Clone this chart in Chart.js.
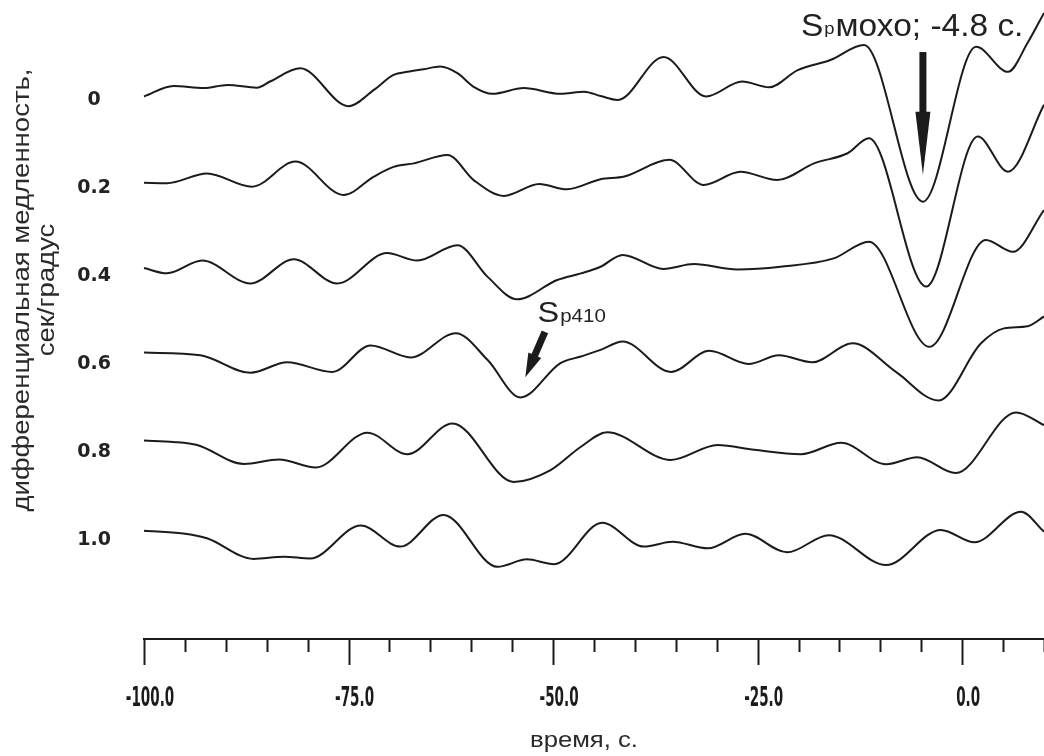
<!DOCTYPE html>
<html>
<head>
<meta charset="utf-8">
<script src="https://cdn.jsdelivr.net/npm/chart.js@4.4.1/dist/chart.umd.min.js"></script>
<style>
  html, body { margin: 0; padding: 0; background: #fff; }
  #wrap { width: 1044px; height: 756px; position: relative; }
</style>
</head>
<body>
<div id="wrap"><canvas id="stackChart"></canvas></div>
<script>
/* ============================================================
   Receiver-function stack vs differential slowness
   one trace per slowness value, time axis in seconds
   ============================================================ */

/* y axis — differential slowness, сек/градус */
const SLOWNESS        = [0, 0.2, 0.4, 0.6, 0.8, 1.0];
const SLOWNESS_LABELS = ['0', '0.2', '0.4', '0.6', '0.8', '1.0'];

/* x axis — time, s */
const TIME_MAJOR        = [-100, -75, -50, -25, 0];
const TIME_MAJOR_LABELS = ['-100.0', '-75.0', '-50.0', '-25.0', '0.0'];

/* traces: [time s, amplitude] — amplitude in arbitrary units, + is up */
const TRACE_00 = [
  [-100, 0.8], [-96.4, 3.2], [-92.7, 2.7], [-89.8, 3.4], [-86.2, 2.8], [-84.6, 4.2],
  [-80.9, 7.2], [-75.0, -1.4], [-71.9, 2.3], [-69.5, 5.7], [-67.8, 6.4], [-65.8, 7.0],
  [-63.8, 7.6], [-61.7, 6.1], [-59.7, 3.0], [-57.4, 1.4], [-53.6, 2.7], [-49.1, 1.4],
  [-46.2, 1.9], [-44.2, 0.9], [-42.1, 0], [-36.5, 9.8], [-31.3, 0.8], [-26.9, 4.2],
  [-23.6, 2.9], [-20.1, 6.8], [-16.1, 9.1], [-12.0, 12.5],
  [-4.8, -23.1], [1.7, 12.1], [5.6, 6.4], [8.0, 13.0], [10, 19.8],
];
const TRACE_02 = [
  [-100, 1.2], [-97.2, 1.1], [-92.3, 3.3], [-86.8, 0.3], [-81.5, 6.0], [-75.6, -1.6],
  [-71.9, 2.6], [-69.5, 4.8], [-67.0, 5.6], [-62.9, 7.5], [-59.7, 1.8], [-56.0, -1.8],
  [-51.7, 0.9], [-48.3, -0.3], [-44.2, 2.0], [-41.3, 2.6], [-35.8, 6.4], [-31.6, 0.7],
  [-27.1, 3.7], [-22.6, 1.8], [-18.1, 5.6], [-14.0, 7.9], [-11.4, 11.3],
  [-4.4, -22.4], [1.9, 11.7], [5.6, 3.7], [10, 18.9],
];
const TRACE_04 = [
  [-100, 1.8], [-97.2, 0.6], [-92.9, 3.5], [-87.0, -1.7], [-81.7, 3.8], [-76.4, -1.7],
  [-70.3, 5.2], [-66.6, 3.5], [-61.7, 7.0], [-58.0, -0.2], [-54.4, -5.3], [-49.5, -0.9],
  [-46.6, 0.6], [-44.2, 2.1], [-41.5, 4.8], [-36.5, 1.6], [-32.8, 2.7], [-27.5, 1.5],
  [-22.2, 2.1], [-15.7, 4.0], [-11.4, 7.8],
  [-4.0, -16.1], [2.9, 8.2], [6.2, 5.5], [10, 15.0],
];
const TRACE_06 = [
  [-100, 2.6], [-93.1, 2.0], [-87.0, -2.0], [-82.5, 0.4], [-77.0, -1.8], [-72.3, 4.2],
  [-67.4, 1.5], [-61.9, 7.0], [-58.0, 0.9], [-54.0, -7.6], [-49.1, 0.2], [-46.6, 1.7],
  [-44.2, 3.2], [-41.5, 5.1], [-35.6, -1.8], [-30.9, 3.0], [-26.1, 0], [-22.4, 2.0],
  [-18.3, 0.4], [-13.4, 4.7], [-8.1, -1.8], [-2.9, -8.3], [2.3, 4.7],
  [5.1, 8.1], [8.0, 8.6], [10, 10.8],
];
const TRACE_08 = [
  [-100, 2.6], [-96.4, 2.3], [-93.5, 1.6], [-87.8, -2.7], [-83.5, -1.7], [-79.0, -3.5],
  [-72.7, 4.4], [-67.8, -0.5], [-62.3, 6.5], [-54.8, -6.8], [-50.3, -4.1], [-46.6, 1.2],
  [-43.4, 4.5], [-35.6, -1.8], [-29.9, 1.6], [-25.4, 0.5], [-19.7, -0.5], [-14.8, 2.1],
  [-9.3, -2.8], [-5.5, -1.2], [-0.8, -4.8], [6.6, 9.0], [10, 6.1],
];
const TRACE_10 = [
  [-100, 2.1], [-95.2, 1.5], [-92.3, 0.4], [-86.6, -4.3], [-82.9, -3.8], [-79.7, -4.2],
  [-73.5, 3.3], [-68.7, -1.5], [-63.4, 5.7], [-56.8, -6.1], [-53.2, -4.4], [-49.9, -5.5],
  [-44.0, 3.9], [-38.9, -1.5], [-35.4, -0.4], [-31.1, -1.9], [-26.5, 1.4], [-21.4, -2.8],
  [-16.3, 1.1], [-9.3, -5.7], [-2.6, 2.3], [1.5, -0.5], [7.2, 6.4], [10, 1.9],
];
const TRACES = [TRACE_00, TRACE_02, TRACE_04, TRACE_06, TRACE_08, TRACE_10];

const AMP_SCALE = 0.01;   // slowness units per amplitude unit

/* annotations, in data coordinates (time s, slowness) */
const MOHO_ARROW  = { t: -4.8, from: -0.109, to: 0.170 };
const MOHO_LABEL  = { t: -19.7, y: -0.145, main: 'S', sub: 'p', rest: 'мохо; -4.8 с.' };
const P410_ARROW  = { from: [-51.0, 0.527], to: [-53.4, 0.630] };
const P410_LABEL  = { t: -51.9, y: 0.505, main: 'S', sub: 'p410' };

const INK = '#1b1b1b';

/* stretched text helper — reference fonts are wider than Arial */
function drawText(ctx, text, x, y, sx, align) {
  ctx.save();
  ctx.translate(x, y);
  ctx.scale(sx, 1);
  ctx.textAlign = align || 'left';
  ctx.fillText(text, 0, 0);
  ctx.restore();
}

function drawArrow(ctx, x1, y1, x2, y2, shaftW, headW, headLen) {
  const ang = Math.atan2(y2 - y1, x2 - x1);
  const len = Math.hypot(x2 - x1, y2 - y1);
  ctx.save();
  ctx.translate(x1, y1);
  ctx.rotate(ang);
  ctx.fillStyle = INK;
  ctx.fillRect(0, -shaftW / 2, len - headLen + 1, shaftW);
  ctx.beginPath();
  ctx.moveTo(len - headLen, -headW / 2);
  ctx.lineTo(len, 0);
  ctx.lineTo(len - headLen, headW / 2);
  ctx.closePath();
  ctx.fill();
  ctx.restore();
}

/* axis ticks, axis titles and the two phase annotations */
const decorPlugin = {
  id: 'decor',
  afterDraw(chart) {
    const { ctx } = chart;
    const xs = chart.scales.x;
    const ys = chart.scales.y;

    /* ── time axis ticks (major every 25 s, minor every 5 s) ── */
    ctx.save();
    ctx.strokeStyle = INK;
    ctx.lineWidth = 2;
    xs.ticks.forEach(tk => {
      const px = Math.round(xs.getPixelForValue(tk.value)) + 0.5;
      const major = TIME_MAJOR.includes(tk.value);
      ctx.beginPath();
      ctx.moveTo(px, xs.top);
      ctx.lineTo(px, xs.top + (major ? 26 : 13));
      ctx.stroke();
    });

    /* condensed bold tick labels */
    ctx.fillStyle = INK;
    ctx.font = 'bold 26px "Liberation Sans Narrow", "DejaVu Sans Condensed", sans-serif';
    const sxTick = 39 / ctx.measureText('-75.0').width;
    TIME_MAJOR.forEach((v, i) => {
      drawText(ctx, TIME_MAJOR_LABELS[i], xs.getPixelForValue(v) + 6, xs.top + 67, sxTick, 'center');
    });

    /* axis titles */
    ctx.fillStyle = '#2a2a2a';
    ctx.font = '22px "Liberation Sans", Arial, sans-serif';
    const xTitle = 'время, с.';
    drawText(ctx, xTitle, 584, 747, 108 / ctx.measureText(xTitle).width, 'center');

    const yLines = ['дифференциальная медленность,', 'сек/градус'];
    ctx.font = '24px "Liberation Sans", Arial, sans-serif';
    const sy = 443 / ctx.measureText(yLines[0]).width;
    ctx.translate(0, 290);
    ctx.rotate(-Math.PI / 2);
    ctx.textBaseline = 'middle';
    drawText(ctx, yLines[0], 0, 22, sy, 'center');
    drawText(ctx, yLines[1], 0, 47, sy, 'center');
    ctx.restore();

    /* ── S_p Moho arrow + label ── */
    ctx.save();
    const mx = xs.getPixelForValue(MOHO_ARROW.t);
    drawArrow(ctx, mx, ys.getPixelForValue(MOHO_ARROW.from), mx, ys.getPixelForValue(MOHO_ARROW.to), 7, 15, 63);

    ctx.fillStyle = '#222';
    ctx.textBaseline = 'alphabetic';
    const st = 1.08;
    let lx = xs.getPixelForValue(MOHO_LABEL.t);
    const ly = ys.getPixelForValue(MOHO_LABEL.y);
    ctx.font = '31px "Liberation Sans", Arial, sans-serif';
    drawText(ctx, MOHO_LABEL.main, lx, ly, st);
    lx += ctx.measureText(MOHO_LABEL.main).width * st + 1;
    ctx.font = '17px "Liberation Sans", Arial, sans-serif';
    drawText(ctx, MOHO_LABEL.sub, lx, ly - 2, st);
    lx += ctx.measureText(MOHO_LABEL.sub).width * st + 1;
    ctx.font = '31px "Liberation Sans", Arial, sans-serif';
    drawText(ctx, MOHO_LABEL.rest, lx, ly, st);

    /* ── S_p410 arrow + label ── */
    drawArrow(ctx,
      xs.getPixelForValue(P410_ARROW.from[0]), ys.getPixelForValue(P410_ARROW.from[1]),
      xs.getPixelForValue(P410_ARROW.to[0]),   ys.getPixelForValue(P410_ARROW.to[1]),
      7, 14, 24);
    let px = xs.getPixelForValue(P410_LABEL.t);
    const py = ys.getPixelForValue(P410_LABEL.y);
    ctx.font = '30px "Liberation Sans", Arial, sans-serif';
    drawText(ctx, P410_LABEL.main, px, py, st);
    px += ctx.measureText(P410_LABEL.main).width * st + 1;
    ctx.font = '19px "Liberation Sans", Arial, sans-serif';
    drawText(ctx, P410_LABEL.sub, px, py, st);
    ctx.restore();
  },
};

new Chart(document.getElementById('stackChart'), {
  type: 'line',
  data: {
    datasets: TRACES.map((tr, i) => ({
      label: SLOWNESS_LABELS[i],
      data: tr.map(([t, a]) => ({ x: t, y: SLOWNESS[i] - a * AMP_SCALE })),
      borderColor: INK,
      borderWidth: 2,
      pointRadius: 0,
      cubicInterpolationMode: 'monotone',
      fill: false,
      clip: false,
    })),
  },
  options: {
    responsive: true,
    maintainAspectRatio: false,
    animation: false,
    layout: { padding: 0 },
    plugins: {
      legend:  { display: false },
      tooltip: { enabled: false },
    },
    scales: {
      x: {
        type: 'linear',
        min: -100,
        max: 10,
        ticks: { display: false, stepSize: 5 },
        grid: { display: false },
        border: { display: true, color: INK, width: 2 },
        afterFit: s => { s.height = 117; s.paddingLeft = 0; s.paddingRight = 0; },
      },
      y: {
        type: 'linear',
        reverse: true,
        min: -0.22727,
        max: 1.225,
        afterBuildTicks: s => { s.ticks = SLOWNESS.map(v => ({ value: v })); },
        ticks: {
          autoSkip: false,
          crossAlign: 'center',
          padding: 33,
          color: '#222',
          font: { family: '"DejaVu Sans", sans-serif', weight: 'bold', size: 19 },
          callback: (v, i) => SLOWNESS_LABELS[i],
        },
        grid: { display: false, drawTicks: false },
        border: { display: false },
        afterFit: s => { s.width = 144; s.paddingTop = 0; s.paddingBottom = 0; },
      },
    },
  },
  plugins: [decorPlugin],
});
</script>
</body>
</html>
